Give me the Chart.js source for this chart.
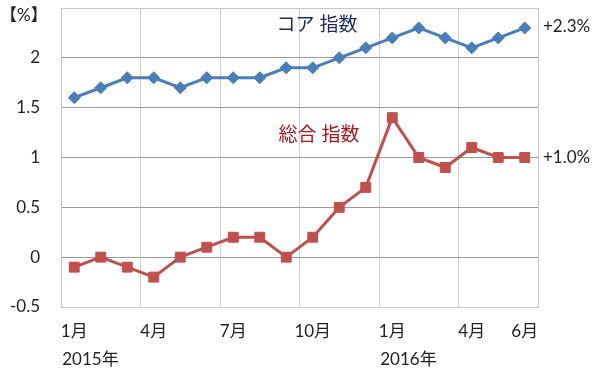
<!DOCTYPE html>
<html>
<head>
<meta charset="utf-8">
<script src="https://cdn.jsdelivr.net/npm/chart.js@4"></script>
<style>
  html, body { margin: 0; padding: 0; background: #fff; }
  #chart { display: block; }
</style>
</head>
<body>
<canvas id="chart" width="600" height="372"></canvas>
<script>
// --- data ---
const months = ['1月','2月','3月','4月','5月','6月','7月','8月','9月','10月','11月','12月',
                '1月','2月','3月','4月','5月','6月'];
const years = [{ index: 0, label: '2015年' }, { index: 12, label: '2016年' }];
const coreIndex = [1.6, 1.7, 1.8, 1.8, 1.7, 1.8, 1.8, 1.8, 1.9, 1.9, 2.0, 2.1, 2.2, 2.3, 2.2, 2.1, 2.2, 2.3];
const totalIndex = [-0.1, 0, -0.1, -0.2, 0, 0.1, 0.2, 0.2, 0, 0.2, 0.5, 0.7, 1.4, 1.0, 0.9, 1.1, 1.0, 1.0];
const yTicks = [-0.5, 0, 0.5, 1, 1.5, 2];
const shownMonths = [0, 3, 6, 9, 12, 15, 17];

const FONT = '"Lato", "Noto Sans CJK JP", sans-serif';
const BLUE = '#4a7ebb';
const RED = '#c0504d';

// extra text: unit, series names, end values, years
const textPlugin = {
  id: 'texts',
  afterDraw(chart) {
    const ctx = chart.ctx;
    const area = chart.chartArea;
    const x = chart.scales.x, y = chart.scales.y;
    ctx.save();
    // right border of the plot
    ctx.strokeStyle = '#c8c8c8';
    ctx.lineWidth = 1;
    ctx.beginPath();
    ctx.moveTo(Math.round(area.right) + 0.5, area.top);
    ctx.lineTo(Math.round(area.right) + 0.5, area.bottom);
    ctx.stroke();

    ctx.textBaseline = 'middle';
    ctx.font = '17px ' + FONT;
    ctx.fillStyle = '#222';
    ctx.textAlign = 'left';
    ctx.fillText('【%】', 0, 16);

    // end values
    ctx.fillText('+2.3%', area.right + 5, y.getPixelForValue(coreIndex[coreIndex.length - 1]) - 1);
    ctx.fillText('+1.0%', area.right + 5, y.getPixelForValue(totalIndex[totalIndex.length - 1]));

    // series names
    ctx.textAlign = 'center';
    ctx.font = '19px ' + FONT;
    ctx.fillStyle = '#1c2b5e';
    ctx.fillText('コア 指数', 317, 25);
    ctx.fillStyle = '#a3191f';
    ctx.fillText('総合 指数', 319, 135);

    // years
    ctx.textAlign = 'left';
    ctx.font = '17px ' + FONT;
    ctx.fillStyle = '#222';
    years.forEach(yr => {
      ctx.fillText(yr.label, x.getPixelForValue(yr.index) - 12, 360);
    });
    ctx.restore();
  }
};

new Chart(document.getElementById('chart'), {
  type: 'line',
  data: {
    labels: months,
    datasets: [
      {
        label: 'コア指数',
        data: coreIndex,
        borderColor: BLUE,
        backgroundColor: BLUE,
        borderWidth: 3,
        pointStyle: 'rectRot',
        pointRadius: 6,
        pointBorderWidth: 1,
        tension: 0
      },
      {
        label: '総合指数',
        data: totalIndex,
        borderColor: RED,
        backgroundColor: RED,
        borderWidth: 3,
        pointStyle: 'rect',
        pointRadius: 7,
        pointBorderWidth: 1,
        tension: 0
      }
    ]
  },
  options: {
    responsive: false,
    animation: false,
    layout: { padding: { left: 0, right: 62, top: 6, bottom: 0 } },
    plugins: { legend: { display: false }, tooltip: { enabled: false } },
    scales: {
      x: {
        offset: true,
        grid: {
          offset: true,
          drawTicks: false,
          color: c => (c.index % 3 === 0 ? '#d0d0d0' : 'rgba(0,0,0,0)'),
          lineWidth: 1
        },
        border: { color: '#c8c8c8' },
        ticks: {
          autoSkip: false,
          maxRotation: 0,
          padding: 14,
          color: '#222',
          font: { family: FONT, size: 17 },
          callback: (v, i) => (shownMonths.includes(i) ? months[i] : '')
        },
        afterFit: s => { s.height = 65; s.paddingLeft = 0; s.paddingRight = 0; }
      },
      y: {
        min: -0.5,
        max: 2.5,
        afterBuildTicks: s => {
          s.ticks = yTicks.concat([2.5]).map(v => ({ value: v }));
        },
        grid: {
          drawTicks: false,
          color: c => (c.tick && (c.tick.value === 2.5 || c.tick.value === -0.5) ? '#c8c8c8' : '#9a9a9a')
        },
        border: { color: '#c0c0c0' },
        ticks: {
          padding: 21,
          color: '#222',
          font: { family: FONT, size: 17 },
          callback: v => (yTicks.includes(v) ? String(v) : '')
        },
        afterFit: s => { s.width = 61; s.paddingTop = 0; s.paddingBottom = 0; }
      }
    }
  },
  plugins: [textPlugin]
});
</script>
</body>
</html>
